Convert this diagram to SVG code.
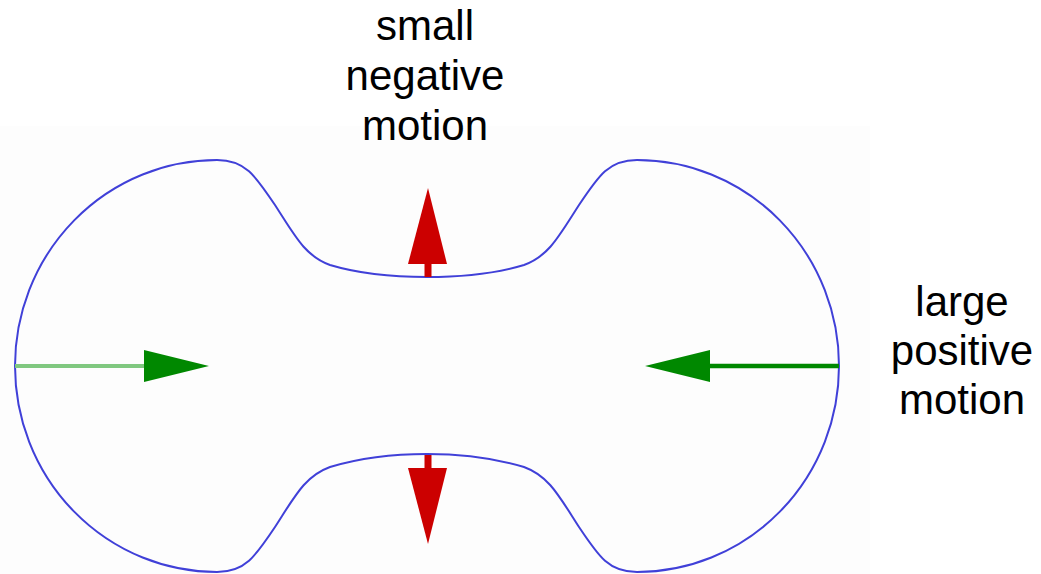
<svg xmlns="http://www.w3.org/2000/svg" width="1041" height="574" viewBox="0 0 1041 574">
<style>
.lbl{font-family:"Liberation Sans",Arial,sans-serif;font-size:42px;fill:#000;text-anchor:middle}
.outline{fill:none;stroke:#4040d8;stroke-width:2}
.red{fill:#cc0000}
.grn{fill:#008800}
</style>
<rect x="0" y="0" width="1041" height="574" fill="#ffffff"/>
<rect x="0" y="126" width="870" height="448" fill="#fdfdfd"/>
<g id="shape">
<path class="outline" d="M15,366 A202,206 0 0 1 217,160 C245,160 255,175 275,205 C295,236 305,256 330,265 C360,274 395,277 427,277 C459,277 494,274 524,265 C549,256 559,236 579,205 C599,175 609,160 637,160 A202,206 0 0 1 839,366 A202,206 0 0 1 637,572 C609,572 599,557 579,527 C559,496 549,476 524,467 C494,458 459,454 427,454 C395,454 360,458 330,467 C305,476 295,496 275,527 C255,557 245,572 217,572 A202,206 0 0 1 15,366 Z"/>
</g>
<g id="connectors">
<g id="arrow-up">
<rect class="red" x="424.5" y="262" width="7" height="15"/>
<polygon class="red" points="428,188 447,264 408,264"/>
</g>
<g id="arrow-down">
<rect class="red" x="424.5" y="455" width="7" height="15"/>
<polygon class="red" points="408,468 447,468 428,544"/>
</g>
<g id="arrow-left-in">
<line x1="15" y1="366" x2="146" y2="366" stroke="#80c880" stroke-width="4"/>
<polygon class="grn" points="144,350 209,366 144,382"/>
</g>
<g id="arrow-right-in">
<line x1="839" y1="366" x2="708" y2="366" stroke="#008800" stroke-width="4.5"/>
<polygon class="grn" points="710,350 645,366 710,382"/>
</g>
</g>
<g id="label-top">
<text class="lbl" x="425" y="40">small</text>
<text class="lbl" x="425" y="90">negative</text>
<text class="lbl" x="425" y="140">motion</text>
</g>
<g id="label-right">
<text class="lbl" x="962" y="316">large</text>
<text class="lbl" x="962" y="365">positive</text>
<text class="lbl" x="962" y="414">motion</text>
</g>
</svg>
